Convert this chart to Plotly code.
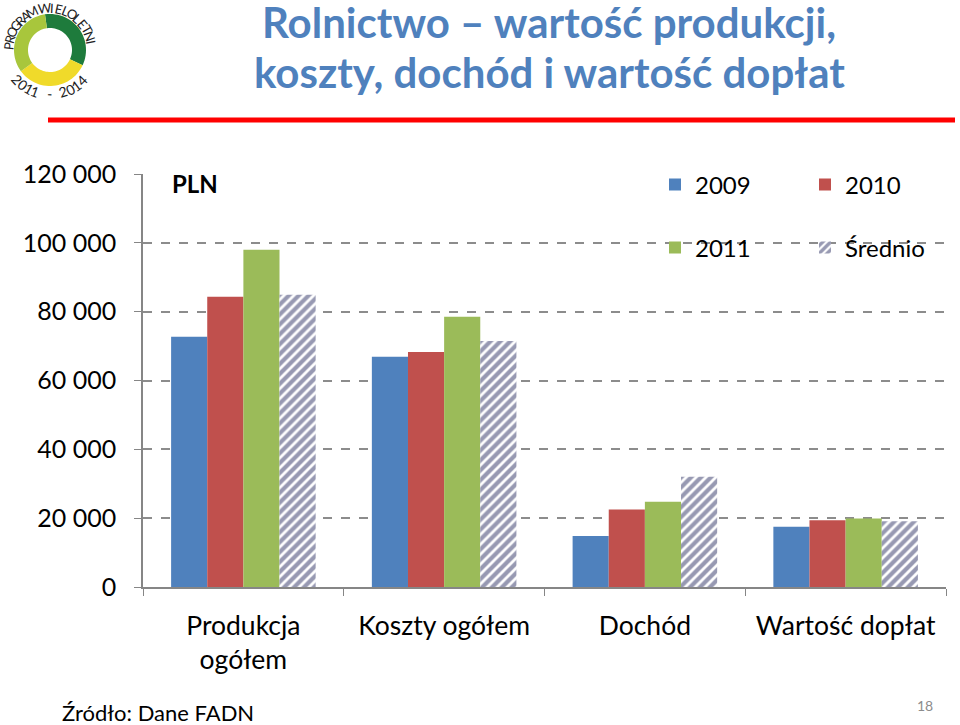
import math
import plotly.graph_objects as go

categories = ["Produkcja<br>ogółem", "Koszty ogółem", "Dochód", "Wartość dopłat"]
v2009 = [72700, 66900, 14800, 17500]
v2010 = [84300, 68300, 22500, 19400]
v2011 = [98000, 78500, 24800, 19900]
vavg = [84900, 71500, 32000, 19100]
y_ticks = [0, 20000, 40000, 60000, 80000, 100000, 120000]

W, H = 960, 725
L, R, T, B = 143, 946, 174, 587
FONT = "Lato"


def pp(px, py):
    return (px - L) / (R - L), (B - py) / (B - T)


fig = go.Figure()
fig.add_bar(name="2009", x=categories, y=v2009, marker=dict(color="#4f81bd", line=dict(width=0)), legend="legend")
fig.add_bar(name="2010", x=categories, y=v2010, marker=dict(color="#c0504d", line=dict(width=0)), legend="legend")
fig.add_bar(name="2011", x=categories, y=v2011, marker=dict(color="#9bbb59", line=dict(width=0)), legend="legend2")
fig.add_bar(name="Średnio", x=categories, y=vavg,
            marker=dict(color="white", line=dict(width=0),
                        pattern=dict(shape="/", fgcolor="#2f3366", bgcolor="white", size=7, solidity=0.6)),
            legend="legend2")

shapes = []
annotations = []

# red rule under the title
x0, y0 = pp(48, 120)
x1, _ = pp(955, 120)
shapes.append(dict(type="line", xref="paper", yref="paper", x0=x0, x1=x1, y0=y0, y1=y0,
                   line=dict(color="#ff0000", width=5)))

# logo ring
cx, cy, ro, ri = 50, 50, 36, 22


def ring(a0, a1, color):
    pts = []
    n = 30
    for i in range(n + 1):
        a = math.radians(a0 + (a1 - a0) * i / n)
        pts.append(pp(cx + ro * math.sin(a), cy - ro * math.cos(a)))
    for i in range(n, -1, -1):
        a = math.radians(a0 + (a1 - a0) * i / n)
        pts.append(pp(cx + ri * math.sin(a), cy - ri * math.cos(a)))
    path = "M" + " L".join(f"{x:.5f},{y:.5f}" for x, y in pts) + " Z"
    shapes.append(dict(type="path", xref="paper", yref="paper", path=path,
                       fillcolor=color, line=dict(width=0)))


ring(-8, 115, "#1e7b3c")
ring(115, 234, "#f0da2a")
ring(234, 352, "#a8c63c")

top_text = "PROGRAM WIELOLETNI"
n = len(top_text)
for i, ch in enumerate(top_text):
    th = -84 + 164 * i / (n - 1)
    a = math.radians(th)
    x, y = pp(cx + 42 * math.sin(a), cy - 42 * math.cos(a))
    annotations.append(dict(text=ch, x=x, y=y, xref="paper", yref="paper", showarrow=False,
                            textangle=th, font=dict(family=FONT, size=13, color="#222222"),
                            xanchor="center", yanchor="middle"))
bot_text = "2011 - 2014"
n = len(bot_text)
for i, ch in enumerate(bot_text):
    th = 228 - 94 * i / (n - 1)
    a = math.radians(th)
    x, y = pp(cx + 44 * math.sin(a), cy - 44 * math.cos(a))
    annotations.append(dict(text=ch, x=x, y=y, xref="paper", yref="paper", showarrow=False,
                            textangle=th - 180, font=dict(family=FONT, size=14, color="#222222"),
                            xanchor="center", yanchor="middle"))

# title
for txt, yy in [("<b>Rolnictwo – wartość produkcji,</b>", 22), ("<b>koszty, dochód i wartość dopłat</b>", 72)]:
    x, y = pp(549, yy)
    annotations.append(dict(text=txt, x=x, y=y, xref="paper", yref="paper", showarrow=False,
                            font=dict(family=FONT, size=42, color="#4f81bd"),
                            xanchor="center", yanchor="middle"))

x, y = pp(170, 183)
annotations.append(dict(text="<b>PLN</b>", x=x, y=y, xref="paper", yref="paper", showarrow=False,
                        font=dict(family=FONT, size=24, color="#000000"), xanchor="left", yanchor="middle"))
x, y = pp(60, 712)
annotations.append(dict(text="Źródło: Dane FADN", x=x, y=y, xref="paper", yref="paper", showarrow=False,
                        font=dict(family=FONT, size=22, color="#000000"), xanchor="left", yanchor="middle"))
x, y = pp(925, 705)
annotations.append(dict(text="18", x=x, y=y, xref="paper", yref="paper", showarrow=False,
                        font=dict(family=FONT, size=14, color="#8c8c8c"), xanchor="center", yanchor="middle"))

leg = dict(orientation="h", xref="container", yref="container", x=655 / W, xanchor="left", yanchor="middle",
           bgcolor="rgba(0,0,0,0)", font=dict(family=FONT, size=24, color="#000000"),
           entrywidth=105, entrywidthmode="pixels", traceorder="normal")

fig.update_layout(
    width=W, height=H,
    margin=dict(l=L, r=W - R, t=T, b=H - B, autoexpand=False),
    paper_bgcolor="white", plot_bgcolor="white",
    barmode="group", bargap=0.28, bargroupgap=0,
    separators=", ",
    font=dict(family=FONT, color="#000000"),
    legend=dict(leg, y=1 - 185 / H),
    legend2=dict(leg, y=1 - 248 / H),
    shapes=shapes, annotations=annotations,
    xaxis=dict(type="category", showline=True, linecolor="#868686", linewidth=1.5,
               ticks="outside", tickson="boundaries", ticklen=7, tickcolor="#868686", tickangle=0,
               automargin=False, ticklabelstandoff=14,
               tickfont=dict(family=FONT, size=26.5, color="#000000"), showgrid=False),
    yaxis=dict(range=[0, 120000], tickvals=y_ticks, tickformat=",d", showline=True, automargin=False,
               linecolor="#868686", linewidth=1.5, ticks="outside", ticklen=7, tickcolor="#868686",
               ticklabelstandoff=13, tickfont=dict(family=FONT, size=25, color="#000000"),
               showgrid=True, gridcolor="#8c8c8c", gridwidth=1.5, griddash="dash", zeroline=False),
)

fig.write_html("out.html", config={"displayModeBar": False},
               post_script="document.body.style.margin='0';document.body.style.padding='0';"
                           "document.body.style.overflow='hidden';")
